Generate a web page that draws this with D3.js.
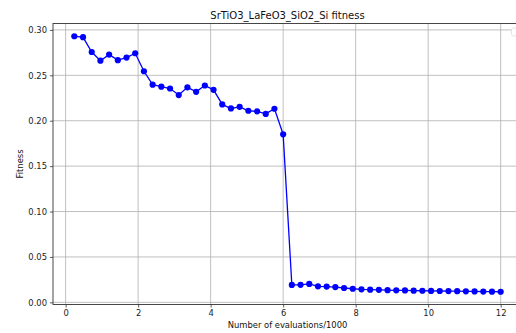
<!DOCTYPE html>
<html>
<head>
<meta charset="utf-8">
<script src="https://cdn.jsdelivr.net/npm/d3@7"></script>
<style>
  html, body { margin: 0; padding: 0; background: #fff; }
  svg { display: block; font-family: "DejaVu Sans", sans-serif; }
</style>
</head>
<body>
<svg id="chart" width="516" height="333"></svg>
<script>
// Evaluations (thousands) at which the best fitness was recorded
const evaluations = [
  0.24, 0.48, 0.72, 0.96, 1.20, 1.44, 1.68, 1.92, 2.16, 2.40,
  2.64, 2.88, 3.12, 3.36, 3.60, 3.84, 4.08, 4.32, 4.56, 4.80,
  5.04, 5.28, 5.52, 5.76, 6.00, 6.24, 6.48, 6.72, 6.96, 7.20,
  7.44, 7.68, 7.92, 8.16, 8.40, 8.64, 8.88, 9.12, 9.36, 9.60,
  9.84, 10.08, 10.32, 10.56, 10.80, 11.04, 11.28, 11.52, 11.76, 12.00
];
const fitness = [
  0.2930, 0.2920, 0.2757, 0.2661, 0.2728, 0.2667, 0.2695, 0.2743, 0.2545, 0.2397,
  0.2375, 0.2355, 0.2283, 0.2368, 0.2318, 0.2388, 0.2340, 0.2180, 0.2135, 0.2153,
  0.2110, 0.2103, 0.2075, 0.2132, 0.1850, 0.0192, 0.0193, 0.0203, 0.0176, 0.0174,
  0.0168, 0.0158, 0.0150, 0.0143, 0.0140, 0.0138, 0.0134, 0.0132, 0.0131, 0.0129,
  0.0128, 0.0126, 0.0125, 0.0124, 0.0123, 0.0121, 0.0120, 0.0119, 0.0118, 0.0117
];
const xTicks = [0, 2, 4, 6, 8, 10, 12];
const yTicks = [0.00, 0.05, 0.10, 0.15, 0.20, 0.25, 0.30];
const titleText = "SrTiO3_LaFeO3_SiO2_Si fitness";
const xLabel = "Number of evaluations/1000";
const yLabel = "Fitness";

const svg = d3.select("#chart");
const plot = { left: 53, right: 522, top: 23.5, bottom: 304.5 };

// 5% padding around the data range
const xExt = d3.extent(evaluations), yExt = d3.extent(fitness);
const xPad = (xExt[1] - xExt[0]) * 0.05, yPad = (yExt[1] - yExt[0]) * 0.05;
const x = d3.scaleLinear().domain([xExt[0] - xPad, xExt[1] + xPad]).range([plot.left, plot.right]);
const y = d3.scaleLinear().domain([yExt[0] - yPad, yExt[1] + yPad]).range([plot.bottom, plot.top]);

// grid
const grid = svg.append("g").attr("stroke", "#b0b0b0").attr("stroke-width", 0.8);
grid.selectAll("line.gx").data(xTicks).join("line").attr("class", "gx")
  .attr("x1", d => x(d)).attr("x2", d => x(d))
  .attr("y1", plot.top).attr("y2", plot.bottom);
grid.selectAll("line.gy").data(yTicks).join("line").attr("class", "gy")
  .attr("x1", plot.left).attr("x2", plot.right)
  .attr("y1", d => y(d)).attr("y2", d => y(d));

// series
const line = d3.line().x((d, i) => x(evaluations[i])).y(d => y(d));
svg.append("path").datum(fitness)
  .attr("fill", "none").attr("stroke", "#0000ff").attr("stroke-width", 1.3)
  .attr("d", line);
svg.append("g").selectAll("circle").data(fitness).join("circle")
  .attr("cx", (d, i) => x(evaluations[i])).attr("cy", d => y(d))
  .attr("r", 3.1).attr("fill", "#0000ff");

// frame
svg.append("rect")
  .attr("x", plot.left).attr("y", plot.top)
  .attr("width", plot.right - plot.left).attr("height", plot.bottom - plot.top)
  .attr("fill", "none").attr("stroke", "#333").attr("stroke-width", 0.9);

// axes
const xAxis = d3.axisBottom(x).tickValues(xTicks).tickFormat(d3.format("d"))
  .tickSize(3).tickPadding(3);
const yAxis = d3.axisLeft(y).tickValues(yTicks).tickFormat(d3.format(".2f"))
  .tickSize(3).tickPadding(3);
const gx = svg.append("g").attr("transform", `translate(0,${plot.bottom})`).call(xAxis);
const gy = svg.append("g").attr("transform", `translate(${plot.left},0)`).call(yAxis);
[gx, gy].forEach(g => {
  g.select(".domain").remove();
  g.selectAll("line").attr("stroke", "#333").attr("stroke-width", 0.8);
  g.selectAll("text").attr("fill", "#222").style("font-size", "8.4px")
    .style("font-family", "DejaVu Sans, sans-serif");
});

// empty legend box in the top-right corner
svg.append("rect")
  .attr("x", 511.5).attr("y", 28).attr("width", 20).attr("height", 8)
  .attr("rx", 2).attr("fill", "#fff").attr("stroke", "#dddddd").attr("stroke-width", 0.8);

// title and labels
svg.append("text").attr("x", (plot.left + plot.right) / 2).attr("y", 19)
  .attr("text-anchor", "middle").style("font-size", "10px").attr("fill", "#111")
  .text(titleText);
svg.append("text").attr("x", (plot.left + plot.right) / 2).attr("y", 328)
  .attr("text-anchor", "middle").style("font-size", "8.4px").attr("fill", "#111")
  .text(xLabel);
svg.append("text").attr("transform", `translate(23,${(plot.top + plot.bottom) / 2}) rotate(-90)`)
  .attr("text-anchor", "middle").style("font-size", "8.4px").attr("fill", "#111")
  .text(yLabel);
</script>
</body>
</html>
